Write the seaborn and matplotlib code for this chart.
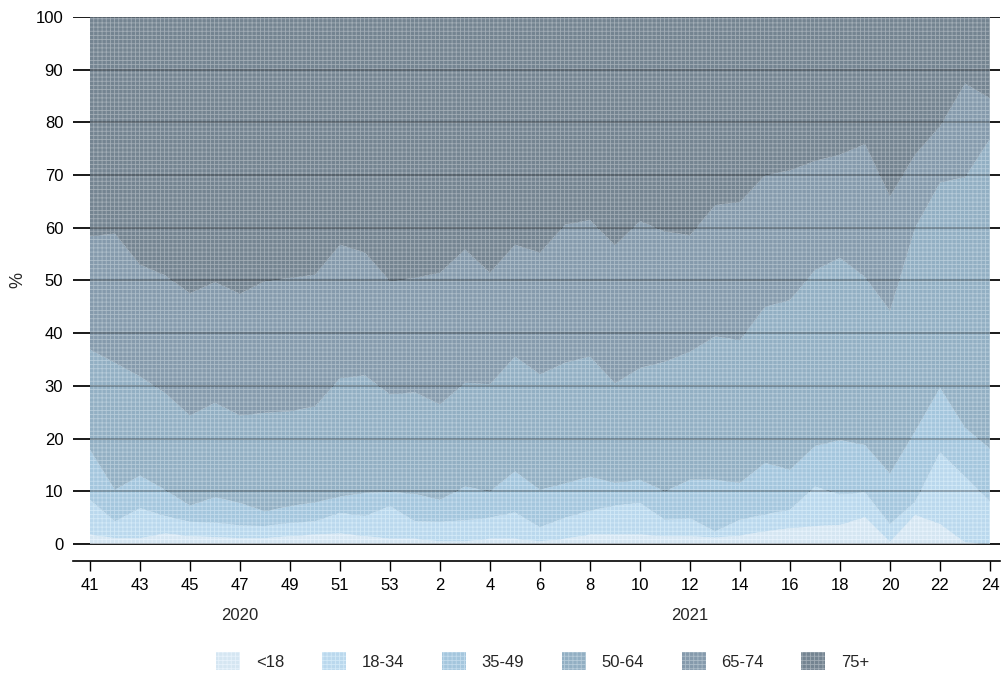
import numpy as np
import matplotlib
matplotlib.use('Agg')
import matplotlib.pyplot as plt
import seaborn as sns
from matplotlib.colors import to_rgb
from matplotlib.patches import Patch
from matplotlib.transforms import blended_transform_factory

# week numbers, 2020 wk 41 .. 2021 wk 24
weeks = list(range(41, 54)) + list(range(1, 25))
groups = ['<18', '18-34', '35-49', '50-64', '65-74', '75+']

# share of cases (%) by age group
u18 = [1.8, 1.1, 1.1, 2.0, 1.5, 1.3, 1.1, 1.1, 1.5, 1.8, 2.0, 1.5, 1.0,
       1.0, 0.5, 0.5, 1.0, 1.0, 0.5, 1.0, 1.8, 1.8, 1.8, 1.5, 1.5, 1.2,
       1.6, 2.4, 3.0, 3.4, 3.6, 5.1, 0.4, 5.5, 3.8, 0.3, 0.0]
a18_34 = [6.6, 3.2, 5.7, 3.3, 2.7, 2.8, 2.4, 2.3, 2.5, 2.5, 3.9, 3.8, 6.2,
          3.3, 3.7, 4.0, 4.0, 5.0, 2.7, 4.0, 4.5, 5.5, 6.0, 3.1, 3.4, 1.2,
          3.0, 3.2, 3.5, 7.5, 5.8, 4.7, 3.4, 2.5, 13.6, 12.5, 8.1]
a35_49 = [9.5, 6.0, 6.2, 5.0, 3.1, 4.8, 4.3, 2.8, 3.2, 3.6, 3.1, 4.4, 2.7,
          5.2, 4.2, 6.4, 5.0, 7.8, 7.1, 6.5, 6.5, 4.3, 4.4, 5.4, 7.3, 9.8,
          7.0, 9.8, 7.6, 7.7, 10.3, 9.0, 9.6, 13.4, 12.3, 9.3, 10.0]
a50_64 = [19.0, 24.1, 18.8, 18.4, 17.1, 17.9, 16.6, 18.7, 18.0, 18.2, 22.5, 22.3, 18.5,
          19.3, 18.1, 19.7, 20.3, 21.8, 21.9, 22.9, 22.8, 18.9, 21.2, 24.6, 24.3, 27.2,
          27.1, 29.6, 32.2, 33.4, 34.6, 31.9, 30.9, 38.6, 38.9, 47.5, 58.8]
a65_74 = [21.5, 24.5, 21.2, 22.3, 23.2, 22.9, 23.1, 25.0, 25.3, 25.0, 25.3, 23.3, 21.5,
          21.7, 25.0, 25.3, 21.2, 21.2, 23.1, 26.2, 25.9, 26.2, 27.9, 24.7, 22.1, 24.9,
          26.2, 25.0, 24.6, 20.7, 19.6, 25.2, 21.7, 13.9, 10.7, 17.8, 7.7]
a75p = [41.6, 41.1, 47.0, 49.0, 52.4, 50.3, 52.5, 50.1, 49.5, 48.9, 43.2, 44.7, 50.1,
        49.5, 48.5, 44.1, 48.5, 43.2, 44.7, 39.4, 38.5, 43.3, 38.7, 40.7, 41.4, 35.7,
        35.1, 30.0, 29.1, 27.3, 26.1, 24.1, 34.0, 26.1, 20.7, 12.6, 15.4]

colors = ['#dcedf9', '#c0dff4', '#a9cce4', '#97b4c9', '#899fb1', '#788895']


def shade(c, f):
    return tuple(np.array(to_rgb(c)) * f)


def tint(c, f):
    c = np.array(to_rgb(c))
    return tuple(c + (1 - c) * f)


sns.set_theme(style='white')
plt.rcParams['font.family'] = ['Liberation Sans', 'DejaVu Sans']
plt.rcParams['hatch.linewidth'] = 0.6

fig = plt.figure(figsize=(10.01, 6.73), dpi=100)
ax = fig.add_axes([73 / 1001, 1 - 561 / 673, 927 / 1001, 544 / 673])

x = np.arange(len(weeks))
series = [u18, a18_34, a35_49, a50_64, a65_74, a75p]
bottom = np.zeros(len(weeks))
for vals, col in zip(series, colors):
    top = bottom + np.array(vals)
    ax.fill_between(x, bottom, top, facecolor=shade(col, 0.97),
                    edgecolor=tint(col, 0.3), hatch='++++', linewidth=0, zorder=2)
    bottom = top

# gridlines: solid behind, translucent over the areas
for v in range(0, 101, 10):
    ax.axhline(v, color='black', lw=1.2, zorder=1)
    ax.axhline(v, color='black', lw=1.2, alpha=0.3, zorder=3)

ax.set_xlim(-0.68, 36.4)
ax.set_ylim(-3.23, 100)
ax.set_yticks(range(0, 101, 10))
ax.set_xticks(x[::2])
ax.set_xticklabels([str(w) for w in weeks[::2]])
ax.tick_params(axis='y', length=0, pad=7, labelsize=12, colors='black')
ax.tick_params(axis='x', length=7, width=1, pad=5, labelsize=12, colors='black',
               direction='out', bottom=True)
for s in ['left', 'right', 'top']:
    ax.spines[s].set_visible(False)
ax.spines['bottom'].set_color('black')
ax.spines['bottom'].set_linewidth(1.2)

trans = blended_transform_factory(ax.transData, fig.transFigure)
ax.text(weeks.index(47), 1 - 615 / 673, '2020', transform=trans,
        ha='center', va='center', fontsize=12)
ax.text(weeks.index(12), 1 - 615 / 673, '2021', transform=trans,
        ha='center', va='center', fontsize=12)
fig.text(18 / 1001, 1 - 280 / 673, '%', rotation=90, ha='center', va='center', fontsize=13)

handles = [Patch(facecolor=shade(c, 0.97), edgecolor=tint(c, 0.3), hatch='++++', linewidth=0)
           for c in colors]
fig.legend(handles, groups, loc='center', bbox_to_anchor=(543 / 1001, 1 - 661 / 673),
           ncol=6, frameon=False, fontsize=12, handlelength=1.44, handleheight=1.2,
           handletextpad=0.96, columnspacing=2.24, borderpad=0)

fig.savefig('out.png', dpi=100)
